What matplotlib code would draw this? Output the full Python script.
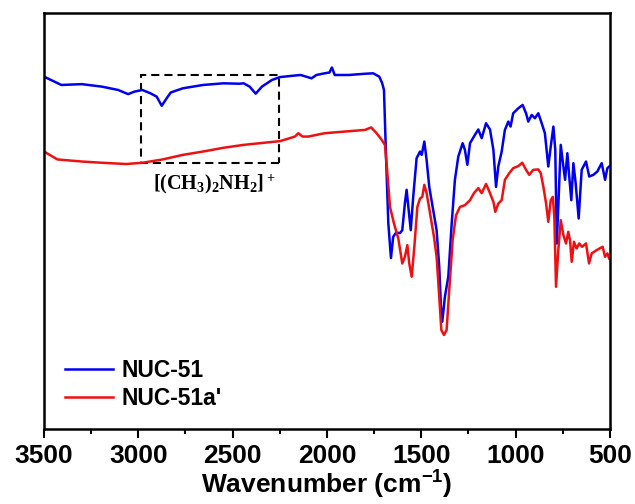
import matplotlib
matplotlib.use("Agg")
import matplotlib.pyplot as plt
from matplotlib.patches import Rectangle
from matplotlib.ticker import MultipleLocator

# FT-IR spectra (wavenumber in cm-1, transmittance in arbitrary %)
nuc51_wn = [3500, 3408, 3300, 3193, 3107, 3054, 3021, 2979, 2936, 2903, 2876, 2850,
            2828, 2764, 2657, 2549, 2464, 2442, 2410, 2378, 2345, 2292, 2249, 2185,
            2140, 2082, 2056, 2013, 1987, 1974, 1959, 1884, 1798, 1755, 1723, 1708,
            1698, 1687, 1675, 1661, 1649, 1634, 1613, 1601, 1587, 1578, 1567, 1556,
            1543, 1525, 1507, 1498, 1484, 1472, 1458, 1437, 1419, 1405, 1396, 1389,
            1375, 1357, 1339, 1322, 1304, 1281, 1269, 1256, 1242, 1216, 1198, 1180,
            1157, 1136, 1118, 1104, 1092, 1074, 1057, 1039, 1027, 1013, 986, 963,
            945, 933, 915, 898, 880, 862, 845, 827, 814, 800, 790, 782, 774, 761,
            747, 738, 726, 716, 705, 694, 682, 666, 650, 627, 610, 588, 567, 544,
            526, 514, 504]
nuc51_t = [84.7, 82.7, 82.9, 82.3, 81.5, 80.5, 81.1, 81.5, 80.7, 79.9, 77.7, 79.5,
           80.9, 81.9, 82.7, 83.1, 83.0, 83.1, 82.3, 80.6, 82.3, 83.9, 84.6, 84.9,
           85.1, 84.3, 85.1, 85.5, 85.7, 86.9, 85.1, 85.1, 85.4, 85.5, 84.7, 83.2,
           81.5, 65.5, 49.5, 41.1, 46.2, 47.2, 47.1, 47.8, 54.3, 57.5, 52.6, 47.8,
           55.8, 65.1, 66.7, 65.9, 69.1, 64.7, 58.2, 52.6, 47.8, 39.0, 29.4, 25.8,
           31.8, 36.6, 49.4, 59.9, 65.5, 68.7, 67.1, 63.5, 68.7, 70.7, 72.0, 69.9,
           73.5, 72.0, 67.1, 58.2, 63.1, 66.7, 71.9, 73.9, 72.7, 75.9, 77.1, 77.9,
           75.9, 73.9, 75.5, 74.7, 75.9, 73.5, 71.1, 63.1, 67.9, 72.7, 67.1, 44.6, 53.4, 68.3,
           63.1, 59.9, 66.3, 60.7, 55.0, 63.9, 59.1, 50.6, 62.3, 64.3, 60.7, 61.1, 61.9, 63.9,
           59.9, 62.7, 63.1]

nuc51a_wn = [3500, 3429, 3300, 3193, 3064, 2979, 2871, 2764, 2657, 2549, 2442, 2335,
             2249, 2170, 2152, 2130, 2099, 2013, 1906, 1798, 1766, 1737, 1710, 1693,
             1680, 1666, 1645, 1622, 1601, 1587, 1574, 1564, 1551, 1537, 1521, 1507,
             1495, 1484, 1472, 1454, 1433, 1419, 1405, 1394, 1380, 1366, 1352, 1334,
             1316, 1295, 1269, 1242, 1221, 1198, 1180, 1157, 1136, 1118, 1108, 1092,
             1074, 1057, 1034, 1013, 986, 965, 945, 928, 907, 880, 867, 853, 839, 827,
             814, 803, 795, 786, 774, 761, 747, 733, 721, 712, 703, 691, 677, 663,
             648, 627, 611, 597, 571, 539, 526, 514, 504]
nuc51a_t = [66.7, 64.8, 64.3, 64.0, 63.7, 64.0, 64.8, 65.9, 66.7, 67.6, 68.3, 68.8,
            69.2, 70.3, 71.1, 70.3, 70.3, 71.1, 71.5, 71.9, 72.5, 71.1, 69.5, 68.3,
            61.5, 53.4, 49.4, 45.8, 39.8, 41.4, 44.2, 39.8, 36.6, 43.8, 53.4, 55.4,
            55.8, 58.7, 56.7, 51.9, 46.2, 41.4, 31.8, 23.8, 22.6, 23.8, 33.4, 45.4,
            51.4, 53.4, 53.8, 55.0, 56.7, 57.9, 56.7, 58.9, 56.7, 54.6, 52.2, 54.2,
            55.0, 59.9, 61.5, 62.7, 63.2, 64.0, 62.3, 61.1, 62.3, 62.4, 61.5, 58.2, 54.3, 49.8,
            55.0, 55.8, 51.0, 34.2, 43.0, 50.2, 46.6, 44.6, 47.4, 45.4, 40.2, 45.0, 43.4, 44.6,
            43.8, 44.6, 39.8, 42.2, 43.0, 43.8, 41.4, 42.2, 41.0]

series_labels = ["NUC-51", "NUC-51a'"]
series_colors = ["#0000f0", "#ee1111"]
x_ticks = [3500, 3000, 2500, 2000, 1500, 1000, 500]

# highlighted region of the dimethylammonium bands
box_wn = (2986, 2254)
box_t = (63.9, 85.1)

fig = plt.figure(figsize=(6.35, 5.04), dpi=100)
ax = fig.add_axes([0.0693, 0.1488, 0.8913, 0.8254])

ax.plot(nuc51_wn, nuc51_t, color=series_colors[0], lw=1.8, label=series_labels[0])
ax.plot(nuc51a_wn, nuc51a_t, color=series_colors[1], lw=1.8, label=series_labels[1])

ax.add_patch(Rectangle((box_wn[1], box_t[0]), box_wn[0] - box_wn[1], box_t[1] - box_t[0],
                       fill=False, edgecolor="black", lw=1.5, linestyle=(0, (3.9, 2.4))))
ax.text(2599, 58.9, r"$\mathregular{[(CH_3)_2NH_2]^+}$", ha="center", va="center",
        fontsize=14.5, family="Liberation Serif", fontweight="bold")

ax.set_xlim(3500, 500)
ax.set_ylim(0, 100)
ax.set_xticks(x_ticks)
ax.xaxis.set_minor_locator(MultipleLocator(250))
ax.set_yticks([])

for s in ax.spines.values():
    s.set_linewidth(1.8)
ax.tick_params(axis="x", which="major", direction="out", length=6.5, width=1.5, pad=4)
ax.tick_params(axis="x", which="minor", direction="out", length=3.6, width=1.5)
for lab in ax.get_xticklabels():
    lab.set_fontfamily("Liberation Sans")
    lab.set_fontweight("bold")
    lab.set_fontsize(19)

ax.set_xlabel(r"Wavenumber (cm$\mathregular{^{-1}}$)", fontsize=19, fontweight="bold",
              family="Liberation Sans", labelpad=1)

leg = ax.legend(loc="lower left", bbox_to_anchor=(0.037, 0.045), frameon=False,
                borderpad=0, borderaxespad=0, handlelength=2.1, handletextpad=0.35,
                labelspacing=0.25,
                prop={"family": "Liberation Sans", "weight": "bold", "size": 16.5})

fig.savefig("out.png", dpi=100)
